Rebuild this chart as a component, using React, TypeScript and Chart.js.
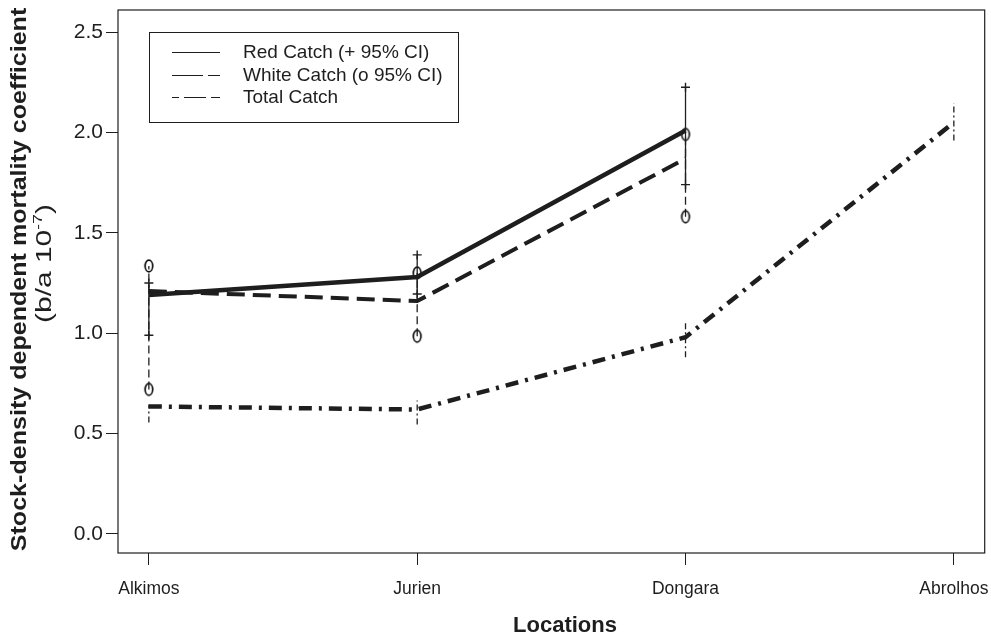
import React, { useEffect, useRef } from 'react';
import { Chart, registerables } from 'chart.js';

Chart.register(...registerables);

// ---------- data ----------
const locations = ['Alkimos', 'Jurien', 'Dongara', 'Abrolhos'];
const locationIndex = [0, 1, 2, 3];
const yTicks = [0, 0.5, 1.0, 1.5, 2.0, 2.5];

const redCatch = [1.19, 1.28, 2.01];
const whiteCatch = [1.21, 1.16, 1.87];
const totalCatch = [0.635, 0.62, 0.98, 2.05];

const redLow = [0.99, 1.195, 1.74];
const redHigh = [1.25, 1.39, 2.225];
const whiteLow = [0.72, 0.985, 1.58];
const whiteHigh = [1.335, 1.3, 1.99];
const totalLow = [0.555, 0.545, 0.88, 1.96];
const totalHigh = [0.645, 0.665, 1.065, 2.145];

const seriesLabels = ['Red Catch (+ 95% CI)', 'White Catch (o 95% CI)', 'Total Catch'];
const xTitle = 'Locations';
const yTitleMain = 'Stock-density dependent mortality coefficient';
const yTitleUnitBase = '(b/a 10';
const yTitleUnitSup = '-7';
const yTitleUnitEnd = ')';

// ---------- helpers ----------
const INK = '#1e1e1e';
const FONT = '"Liberation Sans", Arial, Helvetica, sans-serif';

const toPoints = (vals: number[]) => vals.map((v, i) => ({ x: locationIndex[i], y: v }));
const ciPoints = (lo: number[], hi: number[]) =>
  lo.flatMap((l, i) => [
    { x: locationIndex[i], y: l },
    { x: locationIndex[i], y: hi[i] },
    { x: locationIndex[i], y: null as any },
  ]);

function makeOval(): HTMLCanvasElement {
  const c = document.createElement('canvas');
  c.width = 12;
  c.height = 16;
  const g = c.getContext('2d')!;
  g.strokeStyle = '#111';
  g.lineWidth = 1.7;
  g.beginPath();
  g.ellipse(6, 8, 3.8, 5.8, 0, 0, Math.PI * 2);
  g.stroke();
  return c;
}

const legendStyles = [
  { dash: [] as number[] },
  { dash: [31, 5, 13, 200] },
  { dash: [7, 5, 22, 5, 12, 200] },
];

const zeroPad = (s: any) => {
  s.paddingLeft = 0;
  s.paddingRight = 0;
  s.paddingTop = 0;
  s.paddingBottom = 0;
};

const framePlugin = {
  id: 'frame',
  afterDraw(chart: any) {
    const { ctx, chartArea } = chart;
    ctx.save();
    ctx.strokeStyle = INK;
    ctx.lineWidth = 1.2;
    ctx.strokeRect(chartArea.left, chartArea.top, chartArea.right - chartArea.left, chartArea.bottom - chartArea.top);
    ctx.restore();
  },
};

// x tick labels drawn at the x scale's own pixel positions
const xLabelPlugin = {
  id: 'xLabels',
  afterDraw(chart: any) {
    const { ctx, chartArea } = chart;
    const xs = chart.scales.x;
    ctx.save();
    ctx.fillStyle = INK;
    ctx.font = `17.5px ${FONT}`;
    ctx.textAlign = 'center';
    ctx.textBaseline = 'middle';
    locationIndex.forEach((v) => {
      ctx.fillText(locations[v], xs.getPixelForValue(v), chartArea.bottom + 36);
    });
    ctx.restore();
  },
};

const legendPlugin = {
  id: 'boxLegend',
  afterDraw(chart: any) {
    const { ctx, chartArea } = chart;
    const bx = chartArea.left + 31;
    const by = chartArea.top + 22;
    ctx.save();
    ctx.strokeStyle = INK;
    ctx.lineWidth = 1;
    ctx.strokeRect(bx + 0.5, by + 0.5, 309, 90);
    ctx.font = `19px ${FONT}`;
    ctx.fillStyle = INK;
    ctx.textAlign = 'left';
    ctx.textBaseline = 'middle';
    seriesLabels.forEach((lab, i) => {
      const y = Math.round(by + 20 + i * 22.5);
      ctx.beginPath();
      ctx.setLineDash(legendStyles[i].dash);
      ctx.lineWidth = 1;
      ctx.moveTo(bx + 23, y + 0.5);
      ctx.lineTo(bx + 71, y + 0.5);
      ctx.stroke();
      ctx.setLineDash([]);
      ctx.fillText(lab, bx + 94, y + 1);
    });
    ctx.restore();
  },
};

const titlePlugin = {
  id: 'titles',
  afterDraw(chart: any) {
    const { ctx, chartArea } = chart;
    const cy = (chartArea.top + chartArea.bottom) / 2;
    ctx.save();
    ctx.fillStyle = INK;
    ctx.textBaseline = 'middle';
    // main y title
    ctx.save();
    ctx.translate(20, cy - 2);
    ctx.rotate(-Math.PI / 2);
    ctx.scale(1.14, 1);
    ctx.font = `bold 22px ${FONT}`;
    ctx.textAlign = 'center';
    ctx.fillText(yTitleMain, 0, 0);
    ctx.restore();
    // unit line with superscript
    ctx.save();
    ctx.translate(45, cy - 18);
    ctx.rotate(-Math.PI / 2);
    ctx.scale(1.36, 1);
    const baseFont = `22px ${FONT}`;
    const supFont = `13px ${FONT}`;
    ctx.font = baseFont;
    const w1 = ctx.measureText(yTitleUnitBase).width;
    const w3 = ctx.measureText(yTitleUnitEnd).width;
    ctx.font = supFont;
    const w2 = ctx.measureText(yTitleUnitSup).width;
    let x = -(w1 + w2 + w3) / 2;
    ctx.textAlign = 'left';
    ctx.font = baseFont;
    ctx.fillText(yTitleUnitBase, x, 0);
    x += w1;
    ctx.font = supFont;
    ctx.fillText(yTitleUnitSup, x, -7);
    x += w2;
    ctx.font = baseFont;
    ctx.fillText(yTitleUnitEnd, x, 0);
    ctx.restore();
    // x title
    ctx.font = `bold 22px ${FONT}`;
    ctx.textAlign = 'center';
    ctx.fillText(xTitle, chartArea.left + 447, 626);
    ctx.restore();
  },
};

export default function App() {
  const ref = useRef<HTMLCanvasElement | null>(null);

  useEffect(() => {
    if (!ref.current) return;
    const oval = makeOval();
    const chart = new Chart(ref.current, {
      type: 'line',
      data: {
        datasets: [
          { label: seriesLabels[0], data: toPoints(redCatch), borderColor: INK, borderWidth: 4.5, pointRadius: 0, tension: 0 },
          { label: seriesLabels[1], data: toPoints(whiteCatch), borderColor: INK, borderWidth: 4, borderDash: [18, 8], pointRadius: 0, tension: 0 },
          { label: seriesLabels[2], data: toPoints(totalCatch), borderColor: INK, borderWidth: 4.5, borderDash: [13, 7, 3, 7], pointRadius: 0, tension: 0 },
          {
            label: 'Red CI', data: ciPoints(redLow, redHigh), borderColor: INK, borderWidth: 1.3, spanGaps: false,
            pointStyle: 'cross', pointRadius: (c: any) => (c.raw && c.raw.y != null ? 4.5 : 0), pointBorderWidth: 1.4, pointBorderColor: INK,
          },
          {
            label: 'White CI', data: ciPoints(whiteLow, whiteHigh), borderColor: INK, borderWidth: 1.3, borderDash: [8, 4], spanGaps: false,
            pointStyle: oval as any, pointRadius: (c: any) => (c.raw && c.raw.y != null ? 5 : 0),
          },
          { label: 'Total CI', data: ciPoints(totalLow, totalHigh), borderColor: INK, borderWidth: 1.3, borderDash: [6, 3, 2, 3], spanGaps: false, pointRadius: 0 },
        ],
      },
      options: {
        animation: false,
        responsive: false,
        devicePixelRatio: 1,
        layout: { padding: { left: 0, right: 3, top: 10, bottom: 0 } },
        plugins: { legend: { display: false }, tooltip: { enabled: false }, title: { display: false } },
        scales: {
          x: {
            type: 'linear',
            min: -0.115,
            max: 3.115,
            afterBuildTicks: (s: any) => {
              s.ticks = locationIndex.map((v) => ({ value: v }));
            },
            afterFit: (s: any) => {
              s.height = 87;
              zeroPad(s);
            },
            grid: { display: true, drawOnChartArea: false, drawTicks: true, tickLength: 12, color: INK, lineWidth: 1 },
            border: { display: false },
            ticks: { display: false },
          },
          y: {
            type: 'linear',
            min: -0.095,
            max: 2.61,
            afterBuildTicks: (s: any) => {
              s.ticks = yTicks.map((v) => ({ value: v }));
            },
            afterFit: (s: any) => {
              s.width = 118;
              zeroPad(s);
            },
            grid: { display: true, drawOnChartArea: false, drawTicks: true, tickLength: 12, color: INK, lineWidth: 1 },
            border: { display: false },
            ticks: { padding: 3, color: INK, font: { family: FONT, size: 21 }, callback: (v: any) => Number(v).toFixed(1) },
          },
        },
      },
      plugins: [framePlugin, xLabelPlugin, legendPlugin, titlePlugin],
    });
    return () => chart.destroy();
  }, []);

  return (
    <div style={{ position: 'fixed', left: 0, top: 0, width: 991, height: 640, background: '#fff' }}>
      <canvas ref={ref} width={991} height={640} style={{ display: 'block' }} />
    </div>
  );
}
